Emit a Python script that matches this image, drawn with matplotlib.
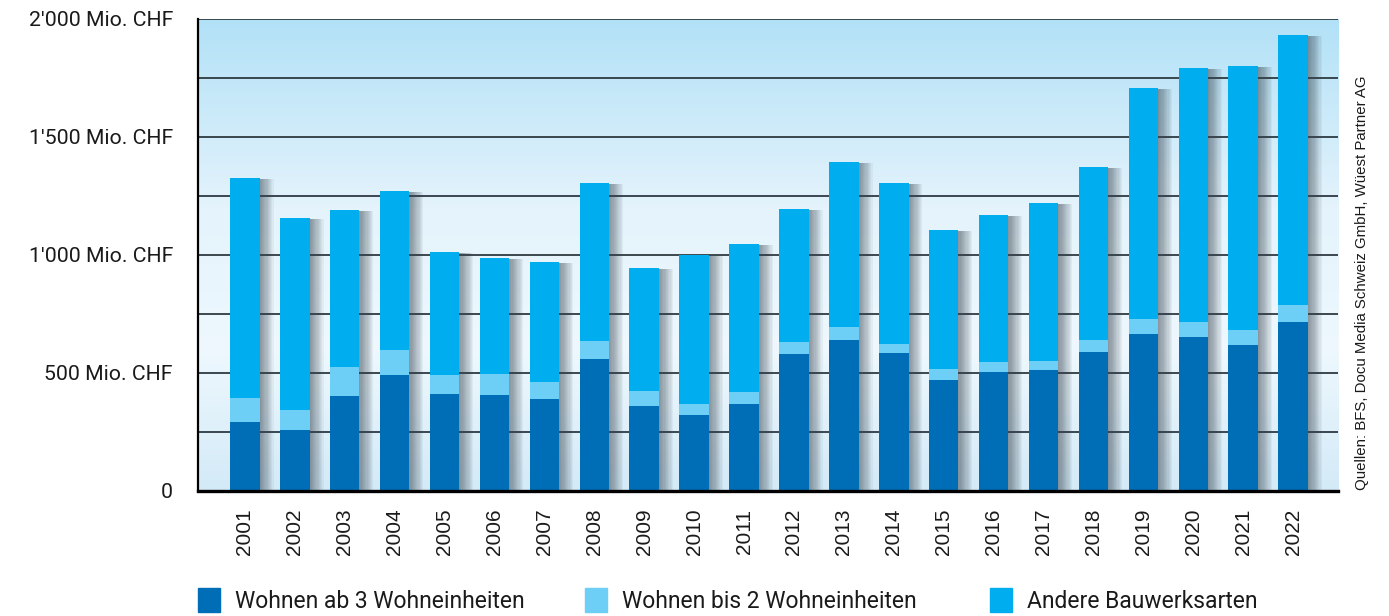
import numpy as np
import matplotlib
matplotlib.use("Agg")
import matplotlib.pyplot as plt
from matplotlib.colors import LinearSegmentedColormap
from matplotlib.patches import Rectangle

# data (Mio. CHF)
years = [str(y) for y in range(2001, 2023)]
ab3 = [292, 258, 401, 490, 410, 405, 389, 558, 359, 321, 367,
       579, 639, 584, 469, 503, 511, 588, 664, 651, 617, 715]
bis2 = [101, 84, 123, 106, 80, 89, 71, 76, 63, 46, 51,
        51, 55, 38, 47, 42, 39, 51, 64, 64, 64, 72]
andere = [932, 813, 665, 674, 521, 492, 509, 670, 522, 630, 627,
          564, 698, 682, 589, 623, 669, 732, 978, 1076, 1118, 1144]

legend_labels = ["Wohnen ab 3 Wohneinheiten", "Wohnen bis 2 Wohneinheiten", "Andere Bauwerksarten"]
source = "Quellen: BFS, Docu Media Schweiz GmbH, Wüest Partner AG"

c_dark = "#006eb6"
c_light = "#6dcff6"
c_other = "#00adee"

label_font = ["Roboto", "DejaVu Sans"]
plt.rcParams["font.family"] = ["Liberation Sans", "DejaVu Sans"]

fig = plt.figure(figsize=(13.89, 6.16), dpi=100)
ax = fig.add_axes([198 / 1389, 1 - 490.7 / 616, 1140 / 1389, 472 / 616])

x = np.arange(len(years))
ab3 = np.array(ab3)
bis2 = np.array(bis2)
andere = np.array(andere)
total = ab3 + bis2 + andere

ax.set_xlim(-0.94, 21.9)
ax.set_ylim(0, 2000)

# background gradient (top darker, fades lighter, slightly darker at bottom)
grad_cmap = LinearSegmentedColormap.from_list(
    "bg", [(0, "#d3eaf7"), (0.3, "#eef8fe"), (0.6, "#e4f3fc"), (1, "#b2e1f7")])
grad = np.linspace(0, 1, 256).reshape(-1, 1)
ax.imshow(grad, cmap=grad_cmap, extent=[-0.94, 21.9, 0, 2000], origin="lower",
          aspect="auto", zorder=0)

# grid
for g in range(250, 2001, 250):
    ax.axhline(g, color="#2e3a40", lw=1.3, zorder=1)

# soft shadows right of each bar
w = 0.59
for d in np.linspace(0.02, 0.28, 12):
    ax.bar(x + d, total - 4, w, color="#3a4650", alpha=0.06, zorder=2, linewidth=0)

ax.bar(x, ab3, w, color=c_dark, zorder=3, linewidth=0)
ax.bar(x, bis2, w, bottom=ab3, color=c_light, zorder=3, linewidth=0)
ax.bar(x, andere, w, bottom=ab3 + bis2, color=c_other, zorder=3, linewidth=0)

# axes styling
for s in ["top", "right"]:
    ax.spines[s].set_visible(False)
ax.spines["left"].set_linewidth(1.6)
ax.spines["bottom"].set_linewidth(2.4)
ax.spines["left"].set_zorder(5)
ax.spines["bottom"].set_zorder(5)

yt = list(range(0, 2001, 250))
ylab = []
for v in yt:
    if v == 0:
        ylab.append("0")
    elif v % 500 == 0:
        ylab.append(f"{v:,}".replace(",", "'") + " Mio. CHF")
    else:
        ylab.append("")
ax.set_yticks(yt)
ax.set_yticklabels(ylab, family=label_font, fontsize=15.3, color="#1a1a1a")
ax.tick_params(axis="y", length=0, pad=18)

ax.set_xticks(x)
ax.set_xticklabels(years, rotation=90, fontsize=15, color="#1a1a1a")
ax.tick_params(axis="x", length=0, pad=13)

# source text on the right
fig.text(1362 / 1389, 1 - 490 / 616, source, rotation=90, ha="center", va="bottom",
         fontsize=10.8, color="#1a1a1a")

# legend
colors = [c_dark, c_light, c_other]
sq_x = [198, 585, 990]
for lab, col, sx in zip(legend_labels, colors, sq_x):
    fig.patches.append(Rectangle((sx / 1389, 1 - 612 / 616), 22 / 1389, 24 / 616,
                                 transform=fig.transFigure, color=col, figure=fig))
    fig.text((sx + 37) / 1389, 1 - 601 / 616, lab, ha="left", va="center",
             family=label_font, fontsize=16.5, color="#1a1a1a")

fig.savefig("out.png", dpi=100)
